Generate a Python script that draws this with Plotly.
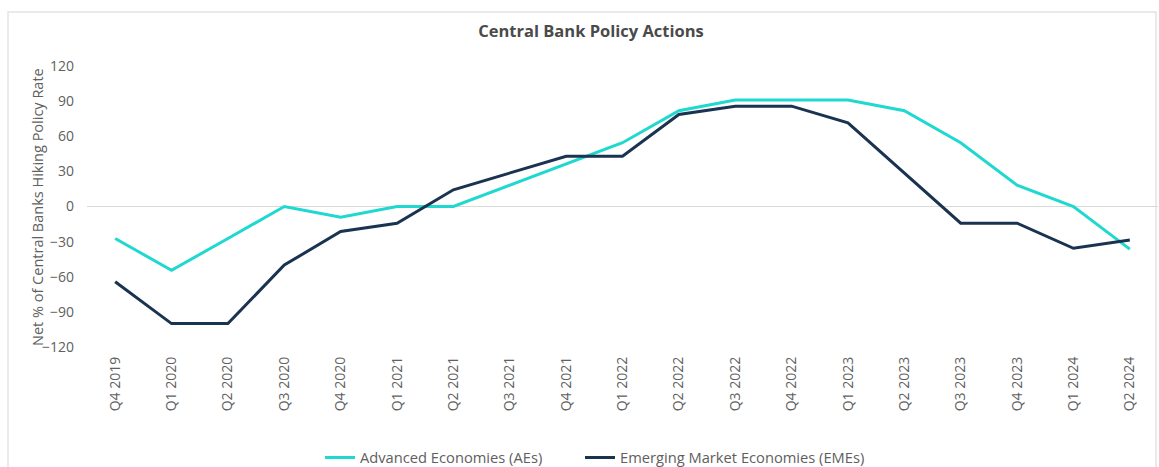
import plotly.graph_objects as go

quarters = ["Q4 2019", "Q1 2020", "Q2 2020", "Q3 2020", "Q4 2020", "Q1 2021", "Q2 2021",
            "Q3 2021", "Q4 2021", "Q1 2022", "Q2 2022", "Q3 2022", "Q4 2022", "Q1 2023",
            "Q2 2023", "Q3 2023", "Q4 2023", "Q1 2024", "Q2 2024"]
advanced = [-27.3, -54.5, -27.3, 0, -9.1, 0, 0, 18.2, 36.4, 54.5, 81.8, 90.9, 90.9, 90.9,
            81.8, 54.5, 18.2, 0, -36.4]
emerging = [-64.3, -100, -100, -50, -21.4, -14.3, 14.3, 28.6, 42.9, 42.9, 78.6, 85.7, 85.7,
            71.4, 28.6, -14.3, -14.3, -35.7, -28.6]
y_ticks = [-120, -90, -60, -30, 0, 30, 60, 90, 120]

FONT = "Open Sans"
W, H = 1159, 467
L, R, T, B = 87, 1, 66, 120
pw, ph = W - L - R, H - T - B

fig = go.Figure()
fig.add_trace(go.Scatter(x=quarters, y=advanced, mode="lines", name="Advanced Economies (AEs)",
                         line=dict(color="#1fd8d0", width=3), legend="legend"))
fig.add_trace(go.Scatter(x=quarters, y=emerging, mode="lines", name="Emerging Market Economies (EMEs)",
                         line=dict(color="#1a3350", width=3), legend="legend2"))

leg_common = dict(orientation="h", y=(T + ph - 458) / ph, yanchor="middle", xanchor="left",
                  font=dict(size=14.7, color="#606060"), itemwidth=30, bgcolor="rgba(0,0,0,0)")

fig.update_layout(
    width=W, height=H,
    margin=dict(l=L, r=R, t=T, b=B, autoexpand=False),
    paper_bgcolor="white", plot_bgcolor="white",
    font=dict(family=FONT, color="#606060", size=14),
    title=dict(text="<b>Central Bank Policy Actions</b>", x=591 / W, xanchor="center",
               y=1 - 31 / H, yanchor="middle", font=dict(size=16.5, color="#4a4a4a", family=FONT)),
    showlegend=True,
    legend=dict(x=(320 - L) / pw, **leg_common),
    legend2=dict(x=(580 - L) / pw, **leg_common),
    xaxis=dict(type="category", range=[-0.5, 18.5], tickangle=-90, showgrid=False,
               zeroline=False, showline=False, ticks="", ticklabelstandoff=6, automargin=False,
               tickfont=dict(size=14, color="#606060")),
    yaxis=dict(range=[-120, 120], tickvals=y_ticks, showgrid=False, zeroline=True,
               zerolinecolor="#d9d9d9", zerolinewidth=1, showline=False, ticks="",
               ticklabelstandoff=12, automargin=False, tickfont=dict(size=14, color="#606060")),
)

fig.add_annotation(text="Net % of Central Banks Hiking Policy Rate", textangle=-90,
                   xref="paper", yref="paper", x=(37 - L) / pw, y=(T + ph - 207) / ph,
                   xanchor="center", yanchor="middle", showarrow=False,
                   font=dict(size=14.5, color="#606060", family=FONT))

fig.add_shape(type="rect", xref="paper", yref="paper",
              x0=(8 - L) / pw, x1=(1156 - L) / pw,
              y0=(T + ph - 480) / ph, y1=(T + ph - 12) / ph,
              line=dict(color="#e3e3e3", width=1.5), fillcolor="rgba(0,0,0,0)", layer="below")

fig.write_html("out.html")
